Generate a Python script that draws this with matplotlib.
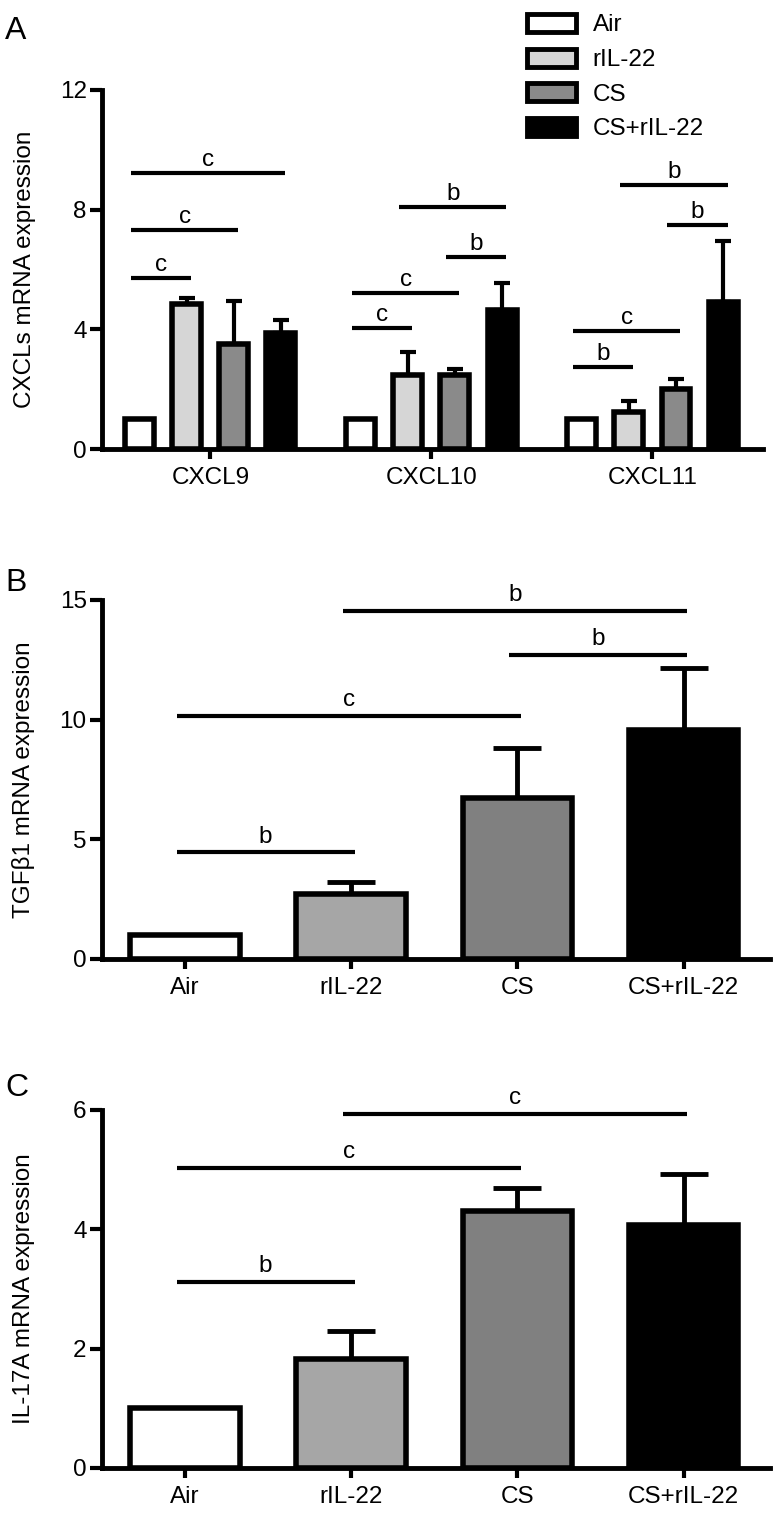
import numpy as np
import matplotlib.pyplot as plt
from matplotlib.patches import Patch

plt.rcParams['font.family'] = ['Liberation Sans', 'DejaVu Sans']
plt.rcParams['font.size'] = 17.5

groups = ['Air', 'rIL-22', 'CS', 'CS+rIL-22']
colors_a = ['white', '#d6d6d6', '#8a8a8a', 'black']
colors_bc = ['white', '#a6a6a6', '#808080', 'black']

# panel A: CXCLs, one list per treatment (CXCL9, CXCL10, CXCL11)
genes = ['CXCL9', 'CXCL10', 'CXCL11']
air_a = [1.0, 1.0, 1.0]
ril_a = [4.85, 2.47, 1.23]
cs_a = [3.5, 2.47, 2.0]
csril_a = [3.88, 4.64, 4.9]
air_a_err = [0, 0, 0]
ril_a_err = [0.2, 0.77, 0.37]
cs_a_err = [1.45, 0.2, 0.34]
csril_a_err = [0.43, 0.9, 2.05]
# (gene, bar from, bar to, height, letter)
sig_a = [(0, 0, 1, 5.72, 'c'), (0, 0, 2, 7.32, 'c'), (0, 0, 3, 9.22, 'c'),
         (1, 0, 1, 4.04, 'c'), (1, 0, 2, 5.21, 'c'), (1, 2, 3, 6.42, 'b'),
         (1, 1, 3, 8.09, 'b'),
         (2, 0, 1, 2.74, 'b'), (2, 0, 2, 3.94, 'c'), (2, 2, 3, 7.49, 'b'),
         (2, 1, 3, 8.82, 'b')]

# panel B: TGFb1
tgf = [1.0, 2.72, 6.73, 9.56]
tgf_err = [0, 0.5, 2.1, 2.6]
sig_b = [(0, 1, 4.46, 'b'), (0, 2, 10.17, 'c'), (2, 3, 12.7, 'b'), (1, 3, 14.55, 'b')]

# panel C: IL-17A
il17 = [1.0, 1.83, 4.31, 4.08]
il17_err = [0, 0.47, 0.38, 0.85]
sig_c = [(0, 1, 3.12, 'b'), (0, 2, 5.03, 'c'), (1, 3, 5.94, 'c')]


def style(ax, yticks):
    for s in ['top', 'right']:
        ax.spines[s].set_visible(False)
    for s in ['left', 'bottom']:
        ax.spines[s].set_linewidth(3.5)
    ax.tick_params(axis='y', width=3, length=9, pad=2)
    ax.tick_params(axis='x', width=3, length=7, pad=6)
    ax.set_yticks(yticks)
    ax.set_ylim(yticks[0], yticks[-1])


def sig(ax, x0, x1, y, txt, off):
    ax.plot([x0, x1], [y, y], color='k', lw=3, solid_capstyle='butt', clip_on=False)
    ax.annotate(txt, xy=((x0 + x1) / 2, y), xytext=(0, off), textcoords='offset points',
                ha='center', va='baseline', annotation_clip=False)


fig = plt.figure(figsize=(7.81, 15.16), dpi=100)

# ---- A
axA = fig.add_axes([102 / 781, 1 - 449 / 1516, 661 / 781, 359 / 1516])
x = np.arange(len(genes))
step = 0.213
w = 0.131
series = [(air_a, air_a_err), (ril_a, ril_a_err), (cs_a, cs_a_err), (csril_a, csril_a_err)]
for k, (vals, errs) in enumerate(series):
    pos = x + (k - 1.5) * step
    axA.bar(pos, vals, w, color=colors_a[k], edgecolor='black', linewidth=4, zorder=3)
    m = np.array(errs) > 0
    if m.any():
        axA.errorbar(pos[m], np.array(vals)[m], yerr=[np.zeros(m.sum()), np.array(errs)[m]],
                     fmt='none', ecolor='black', elinewidth=3, capsize=5.5, capthick=3, zorder=2)
for g, i, j, y, t in sig_a:
    sig(axA, g + (i - 1.5) * step - 0.04, g + (j - 1.5) * step + 0.02, y, t, 5)
axA.set_xlim(-0.49, 2.5)
axA.set_xticks(x)
axA.set_xticklabels(genes)
style(axA, [0, 4, 8, 12])
axA.set_ylabel('CXCLs mRNA expression')
axA.yaxis.set_label_coords(-0.10, 0.5)

handles = [Patch(facecolor=c, edgecolor='black', linewidth=3.5) for c in colors_a]
fig.legend(handles, groups, loc='upper left', bbox_to_anchor=(527 / 781, 1 - 14 / 1516),
           frameon=False, borderpad=0, borderaxespad=0, handlelength=2.0, handleheight=0.76,
           handletextpad=0.7, labelspacing=0.5)


def single(ax, vals, errs, sigs, yticks, ylabel):
    xs = np.arange(len(groups))
    ax.bar(xs, vals, 0.66, color=colors_bc, edgecolor='black', linewidth=4, zorder=3)
    m = np.array(errs) > 0
    ax.errorbar(xs[m], np.array(vals)[m], yerr=[np.zeros(m.sum()), np.array(errs)[m]],
                fmt='none', ecolor='black', elinewidth=3.5, capsize=17, capthick=3.5, zorder=2)
    for i, j, y, t in sigs:
        sig(ax, i - 0.05, j + 0.02, y, t, 7)
    ax.set_xlim(-0.5, 3.52)
    ax.set_xticks(xs)
    ax.set_xticklabels(groups)
    style(ax, yticks)
    ax.set_ylabel(ylabel)
    ax.yaxis.set_label_coords(-0.10, 0.5)


axB = fig.add_axes([102 / 781, 1 - 959 / 1516, 668 / 781, 359 / 1516])
single(axB, tgf, tgf_err, sig_b, [0, 5, 10, 15], 'TGFβ1 mRNA expression')

axC = fig.add_axes([102 / 781, 1 - 1468 / 1516, 668 / 781, 358 / 1516])
single(axC, il17, il17_err, sig_c, [0, 2, 4, 6], 'IL-17A mRNA expression')

fig.text(5 / 781, 1 - 16 / 1516, 'A', fontsize=23, ha='left', va='top')
fig.text(5 / 781, 1 - 568 / 1516, 'B', fontsize=23, ha='left', va='top')
fig.text(5 / 781, 1 - 1073 / 1516, 'C', fontsize=23, ha='left', va='top')

fig.savefig('out.png', dpi=100)
